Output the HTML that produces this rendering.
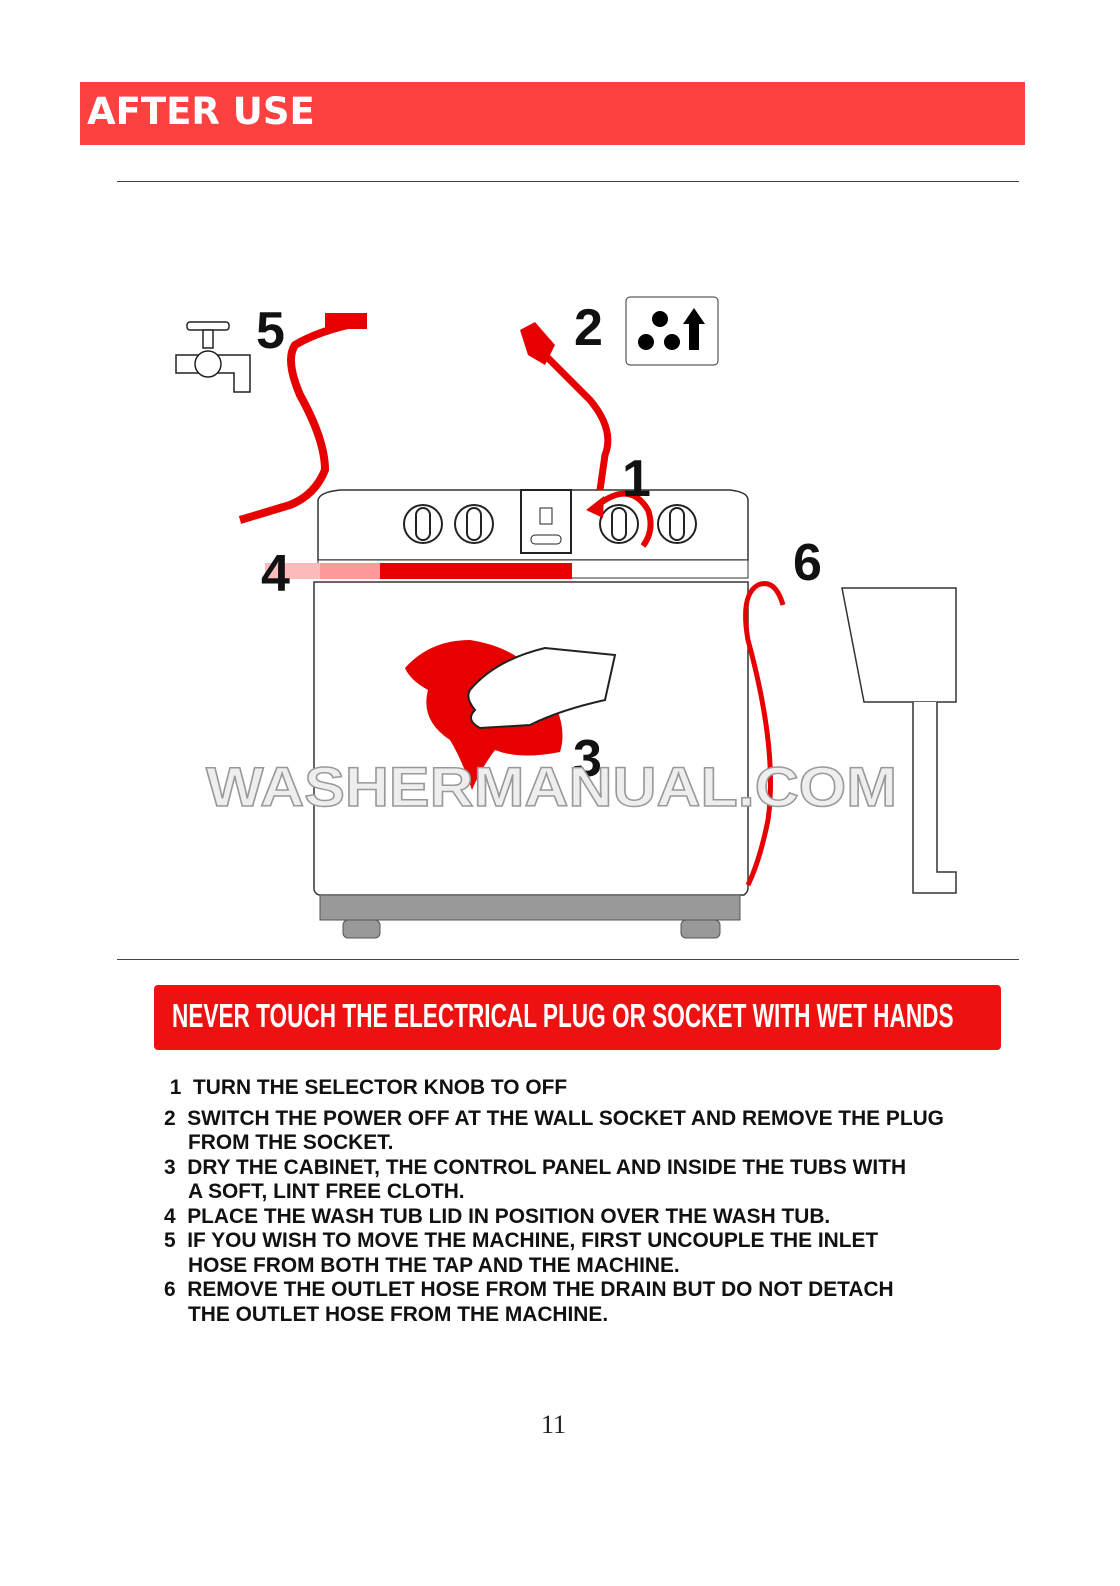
<!DOCTYPE html>
<html><head><meta charset="utf-8"><style>
body{margin:0;background:#fff;width:1120px;height:1586px;position:relative;overflow:hidden;font-family:"Liberation Sans",sans-serif}
.hdr{position:absolute;left:80px;top:82px;width:945px;height:63px;background:#fd4040}
.hdr span{position:absolute;left:7px;top:8px;color:#fff;font:bold 37px "DejaVu Sans","Liberation Sans",sans-serif;letter-spacing:0px}
.ln{position:absolute;left:117px;width:902px;height:1px;background:#444}
.ban{position:absolute;left:154px;top:985px;width:847px;height:65px;background:#ee1111;border-radius:4px}
.ban span{display:inline-block;position:absolute;left:18px;top:12px;color:#fff;font:bold 33px "Liberation Sans Narrow","Liberation Sans",sans-serif;transform:scaleX(0.685);transform-origin:left top;white-space:nowrap}
.list{position:absolute;left:164px;top:1076px;font:bold 20.9px "Liberation Sans",sans-serif;color:#111;line-height:24.5px}
.list div{white-space:nowrap}
.list .c{padding-left:24px}
.pg{position:absolute;left:541px;top:1410px;font:26px "Liberation Serif",serif;color:#222}
</style></head><body>
<div class="hdr"><span>AFTER USE</span></div>
<div class="ln" style="top:181px"></div>
<div class="ln" style="top:959px"></div>
<svg width="1120" height="1586" style="position:absolute;left:0;top:0" font-family="Liberation Sans,sans-serif">
<path d="M318 560 L318 500 Q320 492 340 490 L730 490 Q748 492 748 500 L748 560 Z" fill="#fff" stroke="#333" stroke-width="1.5"/>
<rect x="318" y="560" width="430" height="18" fill="#fff" stroke="#333"/>
<rect x="320" y="563" width="252" height="16" fill="#e60000"/>
<rect x="320" y="563" width="60" height="16" fill="#f99"/>
<rect x="265" y="563" width="55" height="16" fill="#fbb"/>
<path d="M314 582 L314 890 Q316 895 320 895 L744 895 Q748 892 748 888 L748 582 Z" fill="#fff" stroke="#333" stroke-width="1.5"/>
<rect x="320" y="895" width="420" height="25" fill="#999" stroke="#555"/>
<rect x="343" y="920" width="37" height="18" rx="5" fill="#999" stroke="#555"/>
<rect x="681" y="920" width="39" height="18" rx="5" fill="#999" stroke="#555"/>
<g fill="#fff" stroke="#222" stroke-width="2">
<circle cx="423" cy="524" r="19"/><rect x="416" y="508" width="14" height="32" rx="7"/>
<circle cx="474" cy="524" r="19"/><rect x="467" y="508" width="14" height="32" rx="7"/>
<circle cx="619" cy="524" r="19"/><rect x="612" y="508" width="14" height="32" rx="7"/>
<circle cx="677" cy="524" r="19"/><rect x="670" y="508" width="14" height="32" rx="7"/>
</g>
<rect x="521" y="490" width="50" height="63" fill="#fff" stroke="#222" stroke-width="2"/>
<rect x="540" y="508" width="12" height="16" fill="#fff" stroke="#222"/>
<rect x="531" y="535" width="30" height="9" rx="4" fill="#fff" stroke="#222"/>
<path d="M598 505 Q630 480 648 510 Q655 530 643 546" fill="none" stroke="#e60000" stroke-width="6"/>
<polygon points="586,510 604,496 603,518" fill="#e60000"/>
<path d="M540 350 Q570 380 590 400 Q615 430 605 455 L600 490" fill="none" stroke="#e60000" stroke-width="7"/>
<path d="M520 330 L535 322 L555 345 L545 365 L528 355 Z" fill="#e60000"/>
<rect x="626" y="297" width="92" height="68" rx="4" fill="#fff" stroke="#333"/>
<circle cx="660" cy="319" r="8"/><circle cx="646" cy="342" r="8"/><circle cx="672" cy="342" r="8"/>
<rect x="689" y="322" width="10" height="28"/><polygon points="683,324 694,308 705,324"/>
<path d="M362 322 Q320 330 295 345 Q285 360 300 395 Q325 440 325 470 Q315 495 290 505 L240 520" fill="none" stroke="#e60000" stroke-width="8"/>
<rect x="325" y="313" width="42" height="16" fill="#e60000"/>
<g fill="#fff" stroke="#222" stroke-width="1.5">
<rect x="187" y="322" width="42" height="8" rx="3"/>
<rect x="203" y="330" width="10" height="18"/>
<rect x="176" y="355" width="22" height="18"/>
<path d="M218 355 L250 355 L250 392 L234 392 L234 373 L218 373 Z"/>
<circle cx="208" cy="364" r="13"/>
</g>
<path d="M783 605 Q775 578 758 585 Q740 595 748 640 Q778 750 768 820 Q760 860 748 885" fill="none" stroke="#e60000" stroke-width="5"/>
<path d="M842 588 L956 588 L956 702 L864 702 Z" fill="#fff" stroke="#333" stroke-width="1.5"/>
<path d="M913 702 L913 893 L956 893 L956 872 L937 872 L937 702" fill="#fff" stroke="#333" stroke-width="1.5"/>
<path d="M405 668 Q430 640 470 640 Q520 648 540 680 Q570 720 560 752 Q520 760 495 750 Q480 770 472 790 Q462 760 450 740 Q420 720 428 690 Q410 680 405 668 Z" fill="#e60000"/>
<path d="M470 690 Q495 660 545 648 L615 655 L605 700 Q560 710 530 725 L480 728 Q465 720 475 710 Q465 698 470 690 Z" fill="#fff" stroke="#222" stroke-width="2"/>
<g font-weight="bold" font-size="52" fill="#111">
<text x="256" y="348">5</text><text x="574" y="345">2</text><text x="622" y="496">1</text>
<text x="261" y="591">4</text><text x="793" y="580">6</text><text x="573" y="776">3</text>
</g>
<text x="206" y="806" font-size="56" font-weight="bold" fill="#eee" stroke="#999" stroke-width="1.5" textLength="691" lengthAdjust="spacingAndGlyphs">WASHERMANUAL.COM</text>
</svg>
<div class="ban"><span>NEVER TOUCH THE ELECTRICAL PLUG OR SOCKET WITH WET HANDS</span></div>
<div class="list">
<div>&nbsp;1&nbsp; TURN THE SELECTOR KNOB TO OFF</div>
<div style="margin-top:6px">2&nbsp; SWITCH THE POWER OFF AT THE WALL SOCKET AND REMOVE THE PLUG</div>
<div class="c">FROM THE SOCKET.</div>
<div>3&nbsp; DRY THE CABINET, THE CONTROL PANEL AND INSIDE THE TUBS WITH</div>
<div class="c">A SOFT, LINT FREE CLOTH.</div>
<div>4&nbsp; PLACE THE WASH TUB LID IN POSITION OVER THE WASH TUB.</div>
<div>5&nbsp; IF YOU WISH TO MOVE THE MACHINE, FIRST UNCOUPLE THE INLET</div>
<div class="c">HOSE FROM BOTH THE TAP AND THE MACHINE.</div>
<div>6&nbsp; REMOVE THE OUTLET HOSE FROM THE DRAIN BUT DO NOT DETACH</div>
<div class="c">THE OUTLET HOSE FROM THE MACHINE.</div>
</div>
<div class="pg">11</div>
</body></html>
